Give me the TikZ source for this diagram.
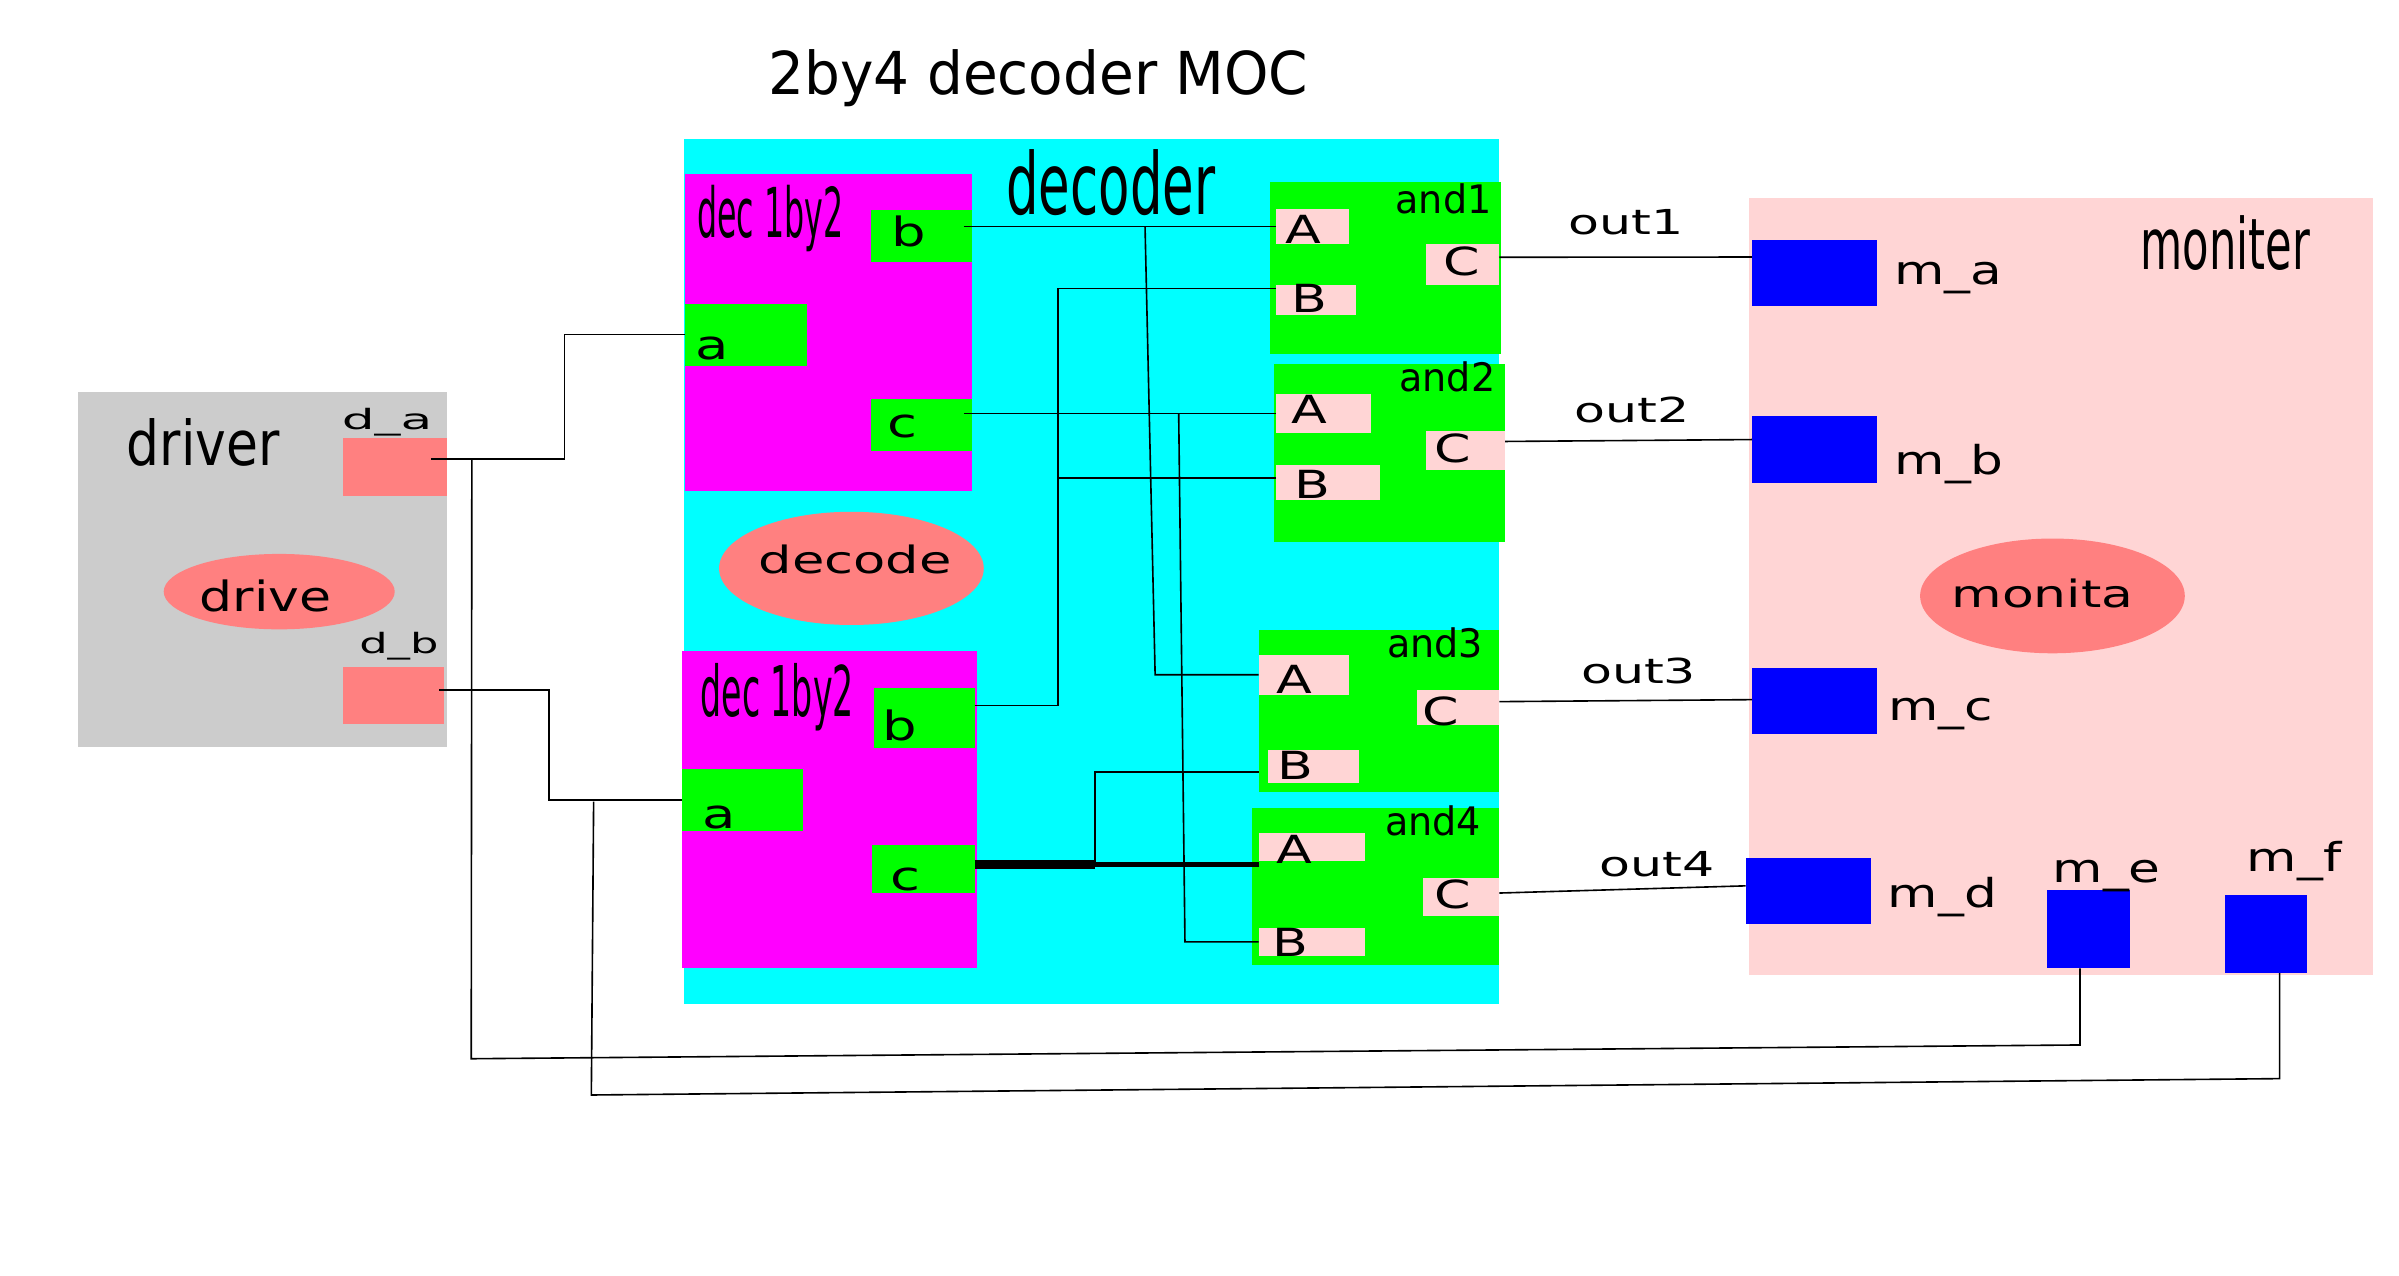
\documentclass[tikz,border=0pt]{standalone}
\usepackage{graphicx}
\usepackage{fontspec}
\setmainfont{DejaVu Sans}
\usetikzlibrary{shapes.geometric}

\definecolor{drvgrey}{HTML}{CCCCCC}
\definecolor{salmon}{HTML}{FF8080}
\definecolor{deccyan}{HTML}{00FFFF}
\definecolor{decmag}{HTML}{FF00FF}
\definecolor{gategreen}{HTML}{00FF00}
\definecolor{pinpink}{HTML}{FFD5D5}
\definecolor{monblue}{HTML}{0000FF}

\tikzset{
  blk/.style={rectangle, anchor=north west, inner sep=0pt, outer sep=0pt},
  iopin/.style={blk, fill=pinpink},
  txt/.style={anchor=base, inner sep=0pt, font=\fontsize{7.2}{8}\selectfont},
  blob/.style={ellipse, fill=salmon, inner sep=0pt},
}
\def\drawwire{\draw[line width=0.3pt]}
\newcommand{\stretchx}[2]{\scalebox{#1}[1]{#2}}

\begin{document}
\begin{tikzpicture}[x=0.1mm, y=-0.1mm]
\useasboundingbox (0,0) rectangle (1568,834);

\node[txt, font=\fontsize{11}{13}\selectfont] (title) at (678.5,62) {\stretchx{0.955}{2by4 decoder MOC}};

% -------- driver ---------
\node[blk, fill=drvgrey, minimum width=24.1mm, minimum height=23.25mm] (driver) at (51,256) {};
\node[blk, fill=salmon, minimum width=6.8mm, minimum height=3.8mm] (dA) at (224,286) {}; % d_a port
\node[blk, fill=salmon, minimum width=6.6mm, minimum height=3.7mm] (dB) at (224,436) {}; % d_b port
\node[blob, minimum width=15.1mm, minimum height=4.93mm] (drive) at (182.5,386.7) {};

% -------- decoder ---------
\node[blk, fill=deccyan, minimum width=53.3mm, minimum height=56.5mm] (decoder) at (447,91) {};
% upper dec 1by2
\node[blk, fill=decmag, minimum width=18.7mm, minimum height=20.7mm] (dec1) at (448,114) {};
\node[blk, fill=gategreen, minimum width=6.6mm, minimum height=3.4mm] (d1b) at (569,137) {};
\node[blk, fill=gategreen, minimum width=7.95mm, minimum height=4.05mm] (d1a) at (448,198.5) {};
\node[blk, fill=gategreen, minimum width=6.6mm, minimum height=3.4mm] (d1c) at (569,261) {};
% lower dec 1by2
\node[blk, fill=decmag, minimum width=19.26mm, minimum height=20.75mm] (dec2) at (446,425.5) {};
\node[blk, fill=gategreen, minimum width=6.6mm, minimum height=3.92mm] (d2b) at (571,449.5) {};
\node[blk, fill=gategreen, minimum width=7.9mm, minimum height=4.04mm] (d2a) at (446,502.6) {};
\node[blk, fill=gategreen, minimum width=6.7mm, minimum height=3.17mm] (d2c) at (570,552) {};
\node[blob, minimum width=17.3mm, minimum height=7.4mm] (decode) at (556.5,371.5) {};
% and gates
\node[blk, fill=gategreen, minimum width=15.1mm, minimum height=11.28mm] (and1) at (830,118.7) {};
\node[iopin, minimum width=4.8mm, minimum height=2.27mm] (a1A) at (834,136.6) {};
\node[iopin, minimum width=5.2mm, minimum height=2mm] (a1B) at (834,186) {};
\node[iopin, minimum width=4.8mm, minimum height=2.67mm] (a1C) at (932,159.3) {};
\node[blk, fill=gategreen, minimum width=15.13mm, minimum height=11.6mm] (and2) at (832.4,238) {};
\node[iopin, minimum width=6.2mm, minimum height=2.55mm] (a2A) at (834,257.5) {};
\node[iopin, minimum width=6.8mm, minimum height=2.3mm] (a2B) at (834,304) {};
\node[iopin, minimum width=5.17mm, minimum height=2.53mm] (a2C) at (932,281.7) {};
\node[blk, fill=gategreen, minimum width=15.74mm, minimum height=10.56mm] (and3) at (822.6,411.8) {};
\node[iopin, minimum width=5.94mm, minimum height=2.6mm] (a3A) at (822.6,428) {};
\node[iopin, minimum width=5.94mm, minimum height=2.16mm] (a3B) at (828.6,490) {};
\node[iopin, minimum width=5.4mm, minimum height=2.3mm] (a3C) at (926,451) {};
\node[blk, fill=gategreen, minimum width=16.2mm, minimum height=10.27mm] (and4) at (818,528) {};
\node[iopin, minimum width=6.94mm, minimum height=1.78mm] (a4A) at (822.6,544.7) {};
\node[iopin, minimum width=6.94mm, minimum height=1.8mm] (a4B) at (822.6,606.6) {};
\node[iopin, minimum width=5mm, minimum height=2.54mm] (a4C) at (930,573.6) {};

% -------- moniter ---------
\node[blk, fill=pinpink, minimum width=40.8mm, minimum height=50.75mm] (moniter) at (1143,129.5) {};
\node[blk, fill=monblue, minimum width=8.2mm, minimum height=4.3mm] (mA) at (1145,157) {};
\node[blk, fill=monblue, minimum width=8.2mm, minimum height=4.4mm] (mB) at (1145,272) {};
\node[blk, fill=monblue, minimum width=8.2mm, minimum height=4.34mm] (mC) at (1145,436.6) {};
\node[blk, fill=monblue, minimum width=8.16mm, minimum height=4.34mm] (mD) at (1141,560.6) {};
\node[blk, fill=monblue, minimum width=5.4mm, minimum height=5.1mm] (mE) at (1338,582) {};
\node[blk, fill=monblue, minimum width=5.37mm, minimum height=5.1mm] (mF) at (1454,585) {};
\node[blob, minimum width=17.3mm, minimum height=7.5mm] (monita) at (1341.5,389.5) {};

% -------- wires: driver to decoder and moniter ---------
\coordinate (daup) at (369,300);     % corner of the d_a wire
\coordinate (dbdown) at (359,451);   % corner of the d_b wire
\drawwire ([xshift=-1mm]dA.east |- daup) -- (daup) |- (d1a.west);
\drawwire ([xshift=-0.3mm]dB.east |- dbdown) -- (dbdown) |- (d2a.west);
\coordinate (tapA) at (308.4,300);   % taps off the d_a wire
\coordinate (tapAlow) at (308,692);
\coordinate (meturn) at (1359.5,683);
\drawwire (tapA) -- (tapAlow) -- (meturn) -- (meturn |- mE.south);
\coordinate (tapB) at (388,524);     % taps off the d_b wire
\coordinate (tapBlow) at (386.5,715.7);
\coordinate (mfturn) at (1490,705);
\drawwire (tapB) -- (tapBlow) -- (mfturn) -- (mfturn |- mF.south);

% -------- wires inside the decoder ---------
\drawwire ([xshift=-0.5mm]d1b.east |- a1A.west) -- (a1A.west);
\coordinate (bsplit) at (748.4,148);
\coordinate (bdown) at (755,441);
\drawwire (bsplit) -- (bdown) -- (a3A.west);
\drawwire ([xshift=-0.5mm]d1c.east |- a2A.west) -- (a2A.west);
\coordinate (csplit) at (770.4,270.5);
\coordinate (cdown) at (774.5,615.6);
\drawwire (csplit) -- (cdown) -- (a4B.west);
\coordinate (bbtop) at (691.5,188.5);
\coordinate (bbmid) at (691.5,312.5);
\coordinate (bbbot) at (691.5,461);
\drawwire (d2b.east |- bbbot) -- (bbbot) -- (bbtop) -- (bbtop -| a1B.west);
\drawwire (bbmid) -- (bbmid -| a2B.west);
\coordinate (ccturn) at (715.7,565);
\coordinate (ccup) at (715.7,504.4);
\draw[line width=0.54mm] (d2c.east |- ccturn) -- (ccturn);
\draw[line width=0.33mm] (ccturn) -- (ccturn -| a4A.west);
\drawwire (ccturn) -- (ccup) -- (ccup -| and3.west);

% -------- outputs ---------
\drawwire ([yshift=0.45mm]a1C.east) -- ([yshift=1.05mm]mA.west);
\drawwire ([yshift=0.58mm]a2C.east) -- ([yshift=0.67mm]mB.west);
\drawwire ([yshift=0.39mm]a3C.east) -- ([yshift=0.1mm]mC.west);
\drawwire ([yshift=0.26mm]a4C.east) -- ([yshift=0.33mm]mD.west);

% -------- texts ---------
\node[txt, font=\fontsize{11.5}{13}\selectfont] (driverT) at (132.8,304) {\stretchx{0.84}{driver}};
\node[txt, font=\fontsize{5.2}{6}\selectfont] (dAT) at (253,280.6) {\stretchx{1.85}{d\_a}};
\node[txt, font=\fontsize{5.2}{6}\selectfont] (dBT) at (260.7,427) {\stretchx{1.6}{d\_b}};
\node[txt, font=\fontsize{7.75}{9}\selectfont] (driveT) at (173.5,399.8) {\stretchx{1.25}{drive}};

\node[txt, font=\fontsize{15.9}{18}\selectfont] (decoderT) at (726,140.5) {\stretchx{0.6}{decoder}};
\node[txt, font=\fontsize{12.8}{14}\selectfont] (dec1T) at (503.5,155) {\stretchx{0.46}{dec 1by2}};
\node[txt, font=\fontsize{13}{14}\selectfont] (dec2T) at (508,468.4) {\stretchx{0.475}{dec 1by2}};
\node[txt, font=\fontsize{7.5}{9}\selectfont] (d1bT) at (594,160.8) {\stretchx{1.35}{b}};
\node[txt, font=\fontsize{7.5}{9}\selectfont] (d1aT) at (465.4,234.9) {\stretchx{1.35}{a}};
\node[txt, font=\fontsize{7.5}{9}\selectfont] (d1cT) at (590,285.8) {\stretchx{1.35}{c}};
\node[txt, font=\fontsize{7.5}{9}\selectfont] (d2bT) at (588,483.7) {\stretchx{1.35}{b}};
\node[txt, font=\fontsize{7.5}{9}\selectfont] (d2aT) at (470,541.4) {\stretchx{1.35}{a}};
\node[txt, font=\fontsize{7.5}{9}\selectfont] (d2cT) at (591.8,582) {\stretchx{1.35}{c}};
\node[txt, font=\fontsize{7}{8}\selectfont] (decodeT) at (559,374.7) {\stretchx{1.4}{decode}};

\node[txt, font=\fontsize{7.3}{8}\selectfont] (and1T) at (943.5,139.4) {\stretchx{0.97}{and1}};
\node[txt, font=\fontsize{7.3}{8}\selectfont] (and2T) at (946,256) {\stretchx{0.97}{and2}};
\node[txt, font=\fontsize{7.3}{8}\selectfont] (and3T) at (938,429.6) {\stretchx{0.97}{and3}};
\node[txt, font=\fontsize{7.3}{8}\selectfont] (and4T) at (936.6,546.4) {\stretchx{0.97}{and4}};
\node[txt] (a1AT) at (851.8,159) {\stretchx{1.35}{A}};
\node[txt] (a1BT) at (855.8,204.4) {\stretchx{1.35}{B}};
\node[txt] (a1CT) at (955.6,180.2) {\stretchx{1.35}{C}};
\node[txt] (a2AT) at (855.7,276.7) {\stretchx{1.35}{A}};
\node[txt] (a2BT) at (858,325.7) {\stretchx{1.35}{B}};
\node[txt] (a2CT) at (949.6,302) {\stretchx{1.35}{C}};
\node[txt] (a3AT) at (846,453.6) {\stretchx{1.35}{A}};
\node[txt] (a3BT) at (846.5,509.4) {\stretchx{1.35}{B}};
\node[txt] (a3CT) at (942,474.5) {\stretchx{1.35}{C}};
\node[txt] (a4AT) at (846,564.3) {\stretchx{1.35}{A}};
\node[txt] (a4BT) at (843.6,625.3) {\stretchx{1.35}{B}};
\node[txt] (a4CT) at (949.6,594) {\stretchx{1.35}{C}};

\node[txt, font=\fontsize{6.4}{8}\selectfont] (out1) at (1062.6,153.6) {\stretchx{1.47}{out1}};
\node[txt, font=\fontsize{6.4}{8}\selectfont] (out2) at (1066.6,276) {\stretchx{1.47}{out2}};
\node[txt, font=\fontsize{6.4}{8}\selectfont] (out3) at (1071,447) {\stretchx{1.47}{out3}};
\node[txt, font=\fontsize{6.4}{8}\selectfont] (out4) at (1083,573) {\stretchx{1.47}{out4}};

\node[txt, font=\fontsize{13.2}{15}\selectfont] (moniterT) at (1454.5,176) {\stretchx{0.61}{moniter}};
\node[txt, font=\fontsize{7.4}{9}\selectfont] (mAT) at (1273.5,186) {\stretchx{1.3}{m\_a}};
\node[txt, font=\fontsize{7.4}{9}\selectfont] (mBT) at (1274,310) {\stretchx{1.3}{m\_b}};
\node[txt, font=\fontsize{7.4}{9}\selectfont] (mCT) at (1268.5,471) {\stretchx{1.3}{m\_c}};
\node[txt, font=\fontsize{7.4}{9}\selectfont] (mDT) at (1269.5,593) {\stretchx{1.3}{m\_d}};
\node[txt, font=\fontsize{7.4}{9}\selectfont] (mET) at (1377,577) {\stretchx{1.3}{m\_e}};
\node[txt, font=\fontsize{7.4}{9}\selectfont] (mFT) at (1499.5,569.6) {\stretchx{1.3}{m\_f}};
\node[txt, font=\fontsize{7}{8}\selectfont] (monitaT) at (1335,397) {\stretchx{1.38}{monita}};
\end{tikzpicture}
\end{document}
